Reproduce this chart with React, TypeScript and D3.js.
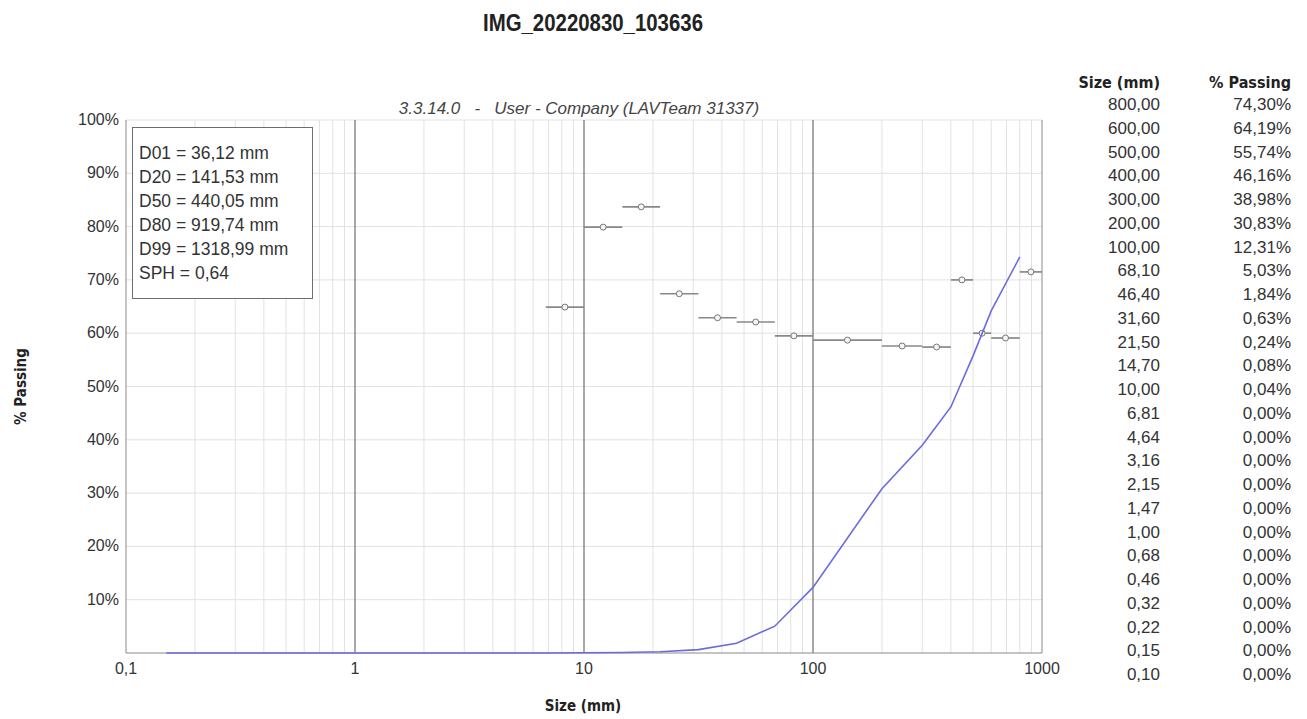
import React from 'react';
import * as d3 from 'd3';

// size table (mm) and cumulative % passing, as printed on the right
const sizes = [800, 600, 500, 400, 300, 200, 100, 68.1, 46.4, 31.6, 21.5, 14.7, 10, 6.81, 4.64, 3.16, 2.15, 1.47, 1, 0.68, 0.46, 0.32, 0.22, 0.15, 0.1];
const passing = [74.3, 64.19, 55.74, 46.16, 38.98, 30.83, 12.31, 5.03, 1.84, 0.63, 0.24, 0.08, 0.04, 0, 0, 0, 0, 0, 0, 0, 0, 0, 0, 0, 0];

// per-bin markers (horizontal bar spans the size class)
const binLo = [6.81, 10, 14.7, 21.5, 31.6, 46.4, 68.1, 100, 200, 300, 400, 500, 600, 800];
const binHi = [10, 14.7, 21.5, 31.6, 46.4, 68.1, 100, 200, 300, 400, 500, 600, 800, 1000];
const binVal = [64.9, 79.9, 83.7, 67.4, 62.9, 62.1, 59.5, 58.7, 57.6, 57.4, 70.0, 60.0, 59.1, 71.5];

const xTicks = [0.1, 1, 10, 100, 1000];
const xTickLabels = ['0,1', '1', '10', '100', '1000'];
const yTicks = [10, 20, 30, 40, 50, 60, 70, 80, 90, 100];

const statLines = ['D01 = 36,12 mm', 'D20 = 141,53 mm', 'D50 = 440,05 mm', 'D80 = 919,74 mm', 'D99 = 1318,99 mm', 'SPH = 0,64'];

const W = 1307;
const H = 719;
const plot = { left: 126, right: 1042, top: 120, bottom: 653 };

const FONT = '"Liberation Sans", Arial, sans-serif';
const NARROW = '"DejaVu Sans Condensed", "Liberation Sans", sans-serif';

const fmt = (v: number) => v.toFixed(2).replace('.', ',');

export default function App() {
  const x = d3.scaleLog().domain([0.1, 1000]).range([plot.left, plot.right]);
  const y = d3.scaleLinear().domain([0, 100]).range([plot.bottom, plot.top]);

  // minor grid lines 2..9 in every decade
  const minor: number[] = [];
  [0.1, 1, 10, 100].forEach(d => {
    for (let k = 2; k <= 9; k++) minor.push(d * k);
  });

  const curvePts = sizes
    .map((s, i) => [s, passing[i]] as [number, number])
    .filter(p => p[0] >= 0.15)
    .sort((a, b) => a[0] - b[0]);

  const line = d3.line<[number, number]>()
    .x(d => x(d[0]))
    .y(d => y(d[1]));

  return (
    <svg width={W} height={H} style={{ position: 'absolute', left: 0, top: 0, background: '#fff' }}>
      {/* title */}
      <text transform="translate(593,31) scale(0.85,1)" textAnchor="middle" fontFamily={FONT} fontWeight="bold" fontSize={24} fill="#222">
        IMG_20220830_103636
      </text>
      <text x={579} y={114} textAnchor="middle" fontFamily={FONT} fontStyle="italic" fontSize={17} fill="#444" style={{ whiteSpace: 'pre' }}>
        {'3.3.14.0   -   User - Company (LAVTeam 31337)'}
      </text>

      {/* grid */}
      {yTicks.map(t => (
        <line key={'h' + t} x1={plot.left} x2={plot.right} y1={y(t)} y2={y(t)} stroke="#e2e2e2" strokeWidth={1} />
      ))}
      {minor.map(m => (
        <line key={'v' + m} x1={x(m)} x2={x(m)} y1={plot.top} y2={plot.bottom} stroke="#e2e2e2" strokeWidth={1} />
      ))}
      {[1, 10, 100].map(m => (
        <line key={'M' + m} x1={x(m)} x2={x(m)} y1={plot.top} y2={plot.bottom} stroke="#6e6e6e" strokeWidth={1.2} />
      ))}

      {/* frame */}
      <line x1={plot.left} x2={plot.left} y1={plot.top} y2={plot.bottom} stroke="#8a8a8a" />
      <line x1={plot.right} x2={plot.right} y1={plot.top} y2={plot.bottom} stroke="#8a8a8a" />
      <line x1={plot.left} x2={plot.right} y1={plot.bottom} y2={plot.bottom} stroke="#8a8a8a" />

      {/* y ticks */}
      {yTicks.map(t => (
        <text key={'yt' + t} x={plot.left - 7} y={y(t) + 5} textAnchor="end" fontFamily={FONT} fontSize={16} fill="#333">
          {t}%
        </text>
      ))}
      {/* x ticks */}
      {xTicks.map((t, i) => (
        <text key={'xt' + t} x={x(t)} y={674} textAnchor="middle" fontFamily={FONT} fontSize={16} fill="#333">
          {xTickLabels[i]}
        </text>
      ))}

      {/* axis titles */}
      <text x={583} y={711} textAnchor="middle" fontFamily={NARROW} fontWeight="bold" fontSize={15} fill="#222">
        Size (mm)
      </text>
      <text transform={`translate(26,${(plot.top + plot.bottom) / 2}) rotate(-90)`} textAnchor="middle" fontFamily={NARROW} fontWeight="bold" fontSize={15} fill="#222">
        % Passing
      </text>

      {/* bin markers */}
      {binVal.map((v, i) => {
        const cx = x(Math.sqrt(binLo[i] * binHi[i]));
        return (
          <g key={'b' + i}>
            <line x1={x(binLo[i])} x2={x(binHi[i])} y1={y(v)} y2={y(v)} stroke="#888" strokeWidth={1.7} />
            <circle cx={cx} cy={y(v)} r={3} fill="#f4f4f4" stroke="#777" strokeWidth={1} />
          </g>
        );
      })}

      {/* cumulative curve */}
      <path d={line(curvePts) || ''} fill="none" stroke="#6b6be0" strokeWidth={1.6} />

      {/* stats box */}
      <rect x={132.5} y={127.5} width={180} height={171} fill="#fff" stroke="#6e6e6e" strokeWidth={1} />
      {statLines.map((s, i) => (
        <text key={'s' + i} x={139} y={159 + i * 24} fontFamily={FONT} fontSize={17.5} fill="#333">
          {s}
        </text>
      ))}

      {/* right table */}
      <text x={1160} y={88} textAnchor="end" fontFamily={NARROW} fontWeight="bold" fontSize={16} fill="#222">
        Size (mm)
      </text>
      <text x={1291} y={88} textAnchor="end" fontFamily={NARROW} fontWeight="bold" fontSize={16} fill="#222">
        % Passing
      </text>
      {sizes.map((s, i) => (
        <g key={'r' + i}>
          <text x={1160} y={110 + i * 23.75} textAnchor="end" fontFamily={FONT} fontSize={17} fill="#333">
            {fmt(s)}
          </text>
          <text x={1291} y={110 + i * 23.75} textAnchor="end" fontFamily={FONT} fontSize={17} fill="#333">
            {fmt(passing[i])}%
          </text>
        </g>
      ))}
    </svg>
  );
}
